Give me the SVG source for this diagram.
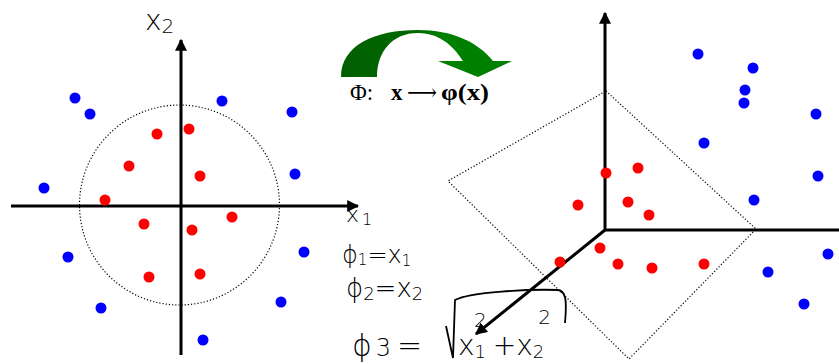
<svg xmlns="http://www.w3.org/2000/svg" width="839" height="364" viewBox="0 0 839 364">
<defs>
<marker id="ah" viewBox="0 0 10 10" refX="9" refY="5" markerWidth="4" markerHeight="4" orient="auto" markerUnits="strokeWidth"><path d="M0,0 L10,5 L0,10 Z" fill="#000"/></marker>
<linearGradient id="g" x1="0" y1="0" x2="1" y2="0"><stop offset="0" stop-color="#005e00"/><stop offset="0.45" stop-color="#006a00"/><stop offset="0.6" stop-color="#008000"/><stop offset="1" stop-color="#008000"/></linearGradient>
</defs>
<style>
.r{fill:#ff0000}
.b{fill:#0000ff}
.ax{stroke:#000;stroke-width:3;fill:none}
.dot{stroke:#000;stroke-width:1.2;fill:none;stroke-dasharray:1.2 2}
.hw{font-family:"DejaVu Sans",sans-serif;fill:#000;font-weight:300}
.ser{font-family:"Liberation Serif","DejaVu Serif",serif;fill:#000}
</style>
<rect width="839" height="364" fill="#fff"/>
<g id="connectors">
<line class="ax" x1="181" y1="355" x2="181" y2="40" marker-end="url(#ah)"/>
<line class="ax" x1="11" y1="206" x2="358" y2="206" marker-end="url(#ah)"/>
<line class="ax" x1="605" y1="230" x2="605" y2="13" marker-end="url(#ah)"/>
<line class="ax" x1="605" y1="230" x2="839" y2="230"/>
<line class="ax" x1="605" y1="230" x2="476" y2="334" marker-end="url(#ah)"/>
</g>
<g id="boundary-circle"><circle class="dot" cx="179.5" cy="205" r="100"/></g>
<g id="plane"><polygon class="dot" points="606,91 756,229 629,359 448,181"/></g>
<g id="left-points">
<circle class="b" cx="75" cy="98" r="5.5"/>
<circle class="b" cx="90" cy="114" r="5.5"/>
<circle class="b" cx="222" cy="101" r="5.5"/>
<circle class="b" cx="292" cy="112" r="5.5"/>
<circle class="b" cx="295" cy="174" r="5.5"/>
<circle class="b" cx="44" cy="188" r="5.5"/>
<circle class="b" cx="68" cy="257" r="5.5"/>
<circle class="b" cx="304" cy="252" r="5.5"/>
<circle class="b" cx="101" cy="308" r="5.5"/>
<circle class="b" cx="281" cy="302" r="5.5"/>
<circle class="b" cx="203" cy="340" r="5.5"/>
<circle class="r" cx="157" cy="134" r="5.5"/>
<circle class="r" cx="189" cy="129" r="5.5"/>
<circle class="r" cx="129" cy="166" r="5.5"/>
<circle class="r" cx="200" cy="176" r="5.5"/>
<circle class="r" cx="105" cy="200" r="5.5"/>
<circle class="r" cx="144" cy="224" r="5.5"/>
<circle class="r" cx="192" cy="230" r="5.5"/>
<circle class="r" cx="232" cy="217" r="5.5"/>
<circle class="r" cx="149" cy="277" r="5.5"/>
<circle class="r" cx="200" cy="274" r="5.5"/>
</g>
<g id="right-points">
<circle class="b" cx="698" cy="54" r="5.5"/>
<circle class="b" cx="753" cy="68" r="5.5"/>
<circle class="b" cx="745" cy="90" r="5.5"/>
<circle class="b" cx="744" cy="103" r="5.5"/>
<circle class="b" cx="816" cy="114" r="5.5"/>
<circle class="b" cx="704" cy="143" r="5.5"/>
<circle class="b" cx="818" cy="176" r="5.5"/>
<circle class="b" cx="754" cy="200" r="5.5"/>
<circle class="b" cx="828" cy="254" r="5.5"/>
<circle class="b" cx="768" cy="272" r="5.5"/>
<circle class="b" cx="804" cy="304" r="5.5"/>
<circle class="r" cx="606" cy="173" r="5.5"/>
<circle class="r" cx="638" cy="168" r="5.5"/>
<circle class="r" cx="578" cy="205" r="5.5"/>
<circle class="r" cx="628" cy="202" r="5.5"/>
<circle class="r" cx="649" cy="215" r="5.5"/>
<circle class="r" cx="600" cy="248" r="5.5"/>
<circle class="r" cx="560" cy="262" r="5.5"/>
<circle class="r" cx="618" cy="264" r="5.5"/>
<circle class="r" cx="652" cy="268" r="5.5"/>
<circle class="r" cx="704" cy="264" r="5.5"/>
</g>
<g id="mapping-arrow">
<path d="M341,77 C341,45 375,30 418,30 C452,30 478,42 493,61 L512,61 L478,77 L438,61 L463,61 C452,44 438,33 418,33 C392,33 377,52 377,77 Z" fill="url(#g)"/>
<text class="ser" y="100" font-size="23"><tspan x="350">Φ:</tspan><tspan x="391" font-weight="bold">x</tspan><tspan x="407" textLength="30" lengthAdjust="spacingAndGlyphs">⟶</tspan><tspan x="441" font-weight="bold" textLength="48" lengthAdjust="spacingAndGlyphs">φ(x)</tspan></text>
</g>
<g id="labels">
<text class="hw" x="145" y="30" font-size="28">x<tspan font-size="20" dy="3">2</tspan></text>
<text class="hw" x="346" y="222" font-size="22">x<tspan font-size="16" dy="3" dx="3">1</tspan></text>
<text class="hw" x="342" y="263" font-size="24">ϕ<tspan font-size="15" dy="2">1</tspan><tspan dy="-2">=x</tspan><tspan font-size="15" dy="3">1</tspan></text>
<text class="hw" x="346" y="297" font-size="26">ϕ<tspan font-size="18" dy="3">2</tspan><tspan dy="-3">=x</tspan><tspan font-size="18" dy="3">2</tspan></text>
<text class="hw" x="352" y="356" font-size="30">ϕ<tspan font-size="24" dx="4">3</tspan><tspan dx="6">=</tspan></text>
<path d="M446,326 L453,358 L455,300 C470,292 530,289 558,290 C566,291 567,300 565,323" fill="none" stroke="#000" stroke-width="1.8"/>
<text class="hw" x="458" y="355" font-size="28">x<tspan font-size="18" dy="3">1</tspan><tspan font-size="20" dx="-12" dy="-31">2</tspan><tspan dx="6" dy="28">+x</tspan><tspan font-size="18" dy="3">2</tspan><tspan font-size="20" dx="-6" dy="-34">2</tspan></text>
</g>
</svg>
